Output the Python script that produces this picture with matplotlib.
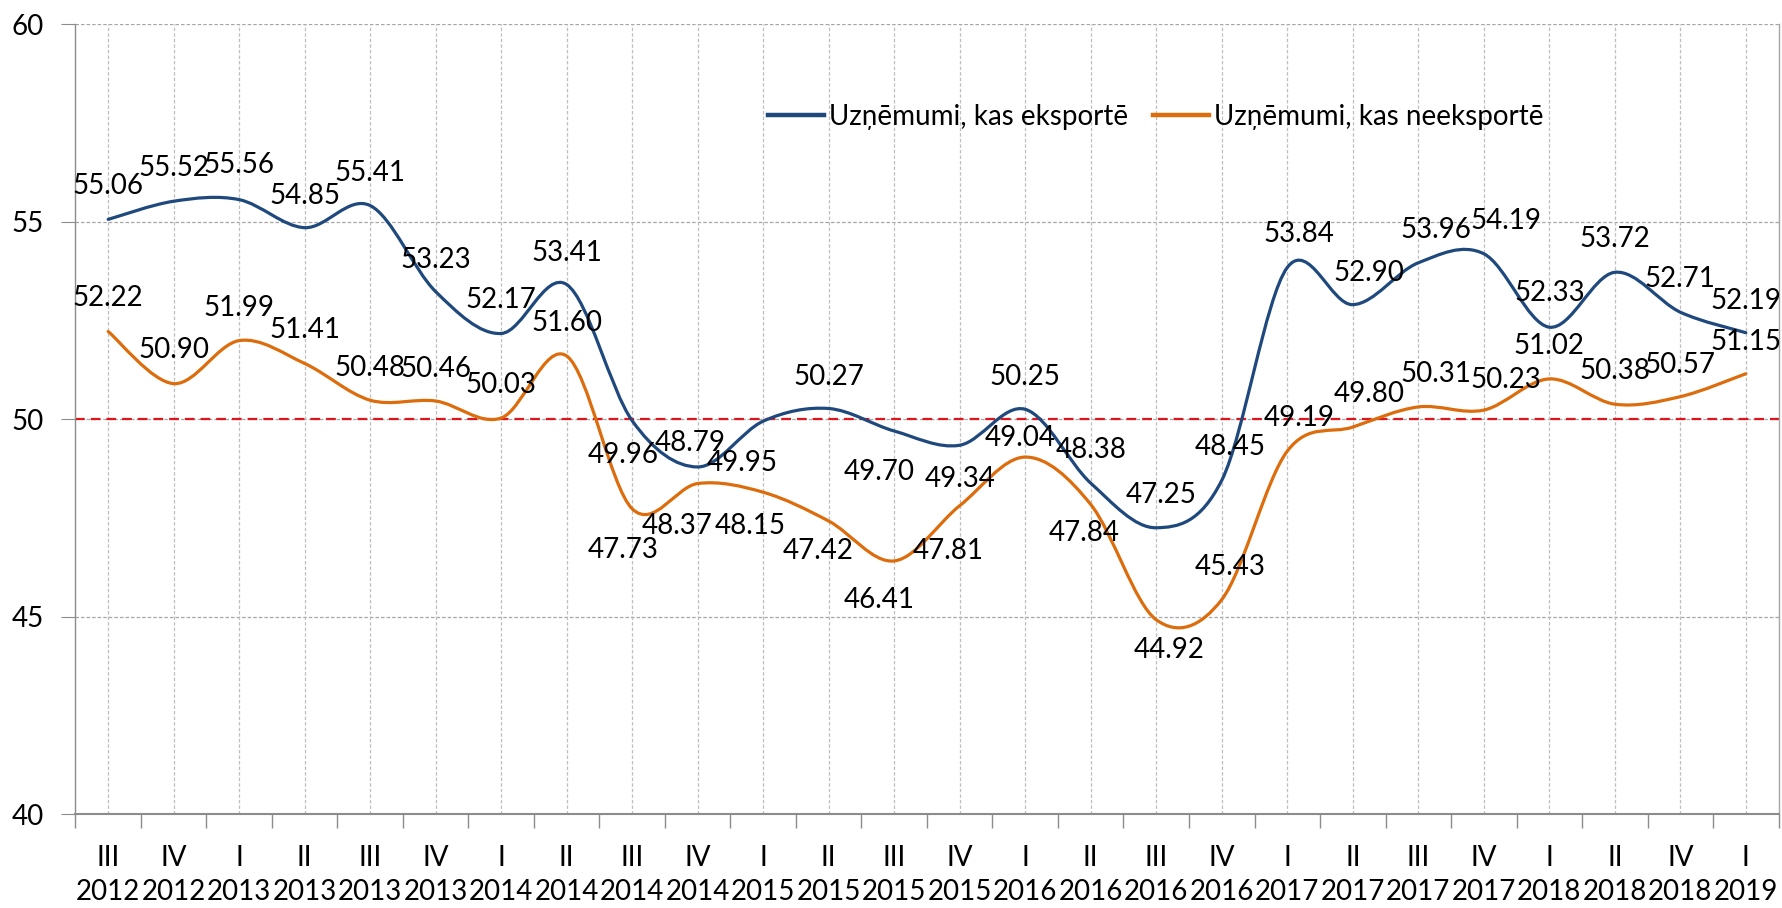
import matplotlib
matplotlib.use("Agg")
import matplotlib.pyplot as plt
from matplotlib.path import Path
from matplotlib.patches import PathPatch
from matplotlib.lines import Line2D

# ---------------- data ----------------
quarters = ["III", "IV", "I", "II", "III", "IV", "I", "II", "III", "IV", "I", "II", "III",
            "IV", "I", "II", "III", "IV", "I", "II", "III", "IV", "I", "II", "IV", "I"]
years = ["2012", "2012", "2013", "2013", "2013", "2013", "2014", "2014", "2014", "2014",
         "2015", "2015", "2015", "2015", "2016", "2016", "2016", "2016", "2017", "2017",
         "2017", "2017", "2018", "2018", "2018", "2019"]
export_vals = [55.06, 55.52, 55.56, 54.85, 55.41, 53.23, 52.17, 53.41, 49.96, 48.79,
               49.95, 50.27, 49.70, 49.34, 50.25, 48.38, 47.25, 48.45, 53.84, 52.90,
               53.96, 54.19, 52.33, 53.72, 52.71, 52.19]
nonexport_vals = [52.22, 50.90, 51.99, 51.41, 50.48, 50.46, 50.03, 51.60, 47.73, 48.37,
                  48.15, 47.42, 46.41, 47.81, 49.04, 47.84, 44.92, 45.43, 49.19, 49.80,
                  50.31, 50.23, 51.02, 50.38, 50.57, 51.15]
series_names = ["Uzņēmumi, kas eksportē", "Uzņēmumi, kas neeksportē"]
threshold = 50
y_ticks = [40, 45, 50, 55, 60]

# label offsets (pixels: dx right, dy down) relative to each point
export_label_offsets = [(0, -35), (0, -35), (0, -37), (0, -34), (0, -35), (0, -34), (0, -35),
                        (0, -34), (-9, 32), (-8, -26), (-21, 40), (0, -34), (-15, 39),
                        (0, 32), (0, -34), (0, -35), (5, -35), (8, -35), (12, -36),
                        (16, -34), (18, -35), (22, -35), (0, -36), (0, -35), (0, -35), (0, -34)]
nonexport_label_offsets = [(0, -36), (0, -36), (0, -35), (0, -36), (0, -34), (0, -34), (0, -35),
                           (0, -35), (-9, 39), (-21, 40), (-13, 32), (-11, 28), (-15, 37),
                           (-12, 43), (-5, -21), (-7, 27), (13, 28), (8, -35), (12, -35),
                           (16, -35), (18, -35), (22, -32), (0, -35), (0, -35), (0, -34), (0, -34)]

# ---------------- style ----------------
plt.rcParams['font.family'] = ['Lato', 'DejaVu Sans']
plt.rcParams['lines.scale_dashes'] = False
FS = 20
BLUE = '#1F497D'
ORANGE = '#DC6C0C'
RED = '#E0141C'
GRID = '#BFBFBF'
AXIS = '#8C8C8C'

fig = plt.figure(figsize=(17.83, 9.08), dpi=100)
ax = fig.add_axes([0.0423, 0.1035, 0.9552, 0.8697])


def smooth_path(xs, ys):
    n = len(xs)
    verts = [(xs[0], ys[0])]
    codes = [Path.MOVETO]
    for i in range(n - 1):
        p0 = i - 1 if i > 0 else i
        p3 = i + 2 if i + 2 < n else i + 1
        c1 = (xs[i] + (xs[i + 1] - xs[p0]) / 6.0, ys[i] + (ys[i + 1] - ys[p0]) / 6.0)
        c2 = (xs[i + 1] - (xs[p3] - xs[i]) / 6.0, ys[i + 1] - (ys[p3] - ys[i]) / 6.0)
        verts += [c1, c2, (xs[i + 1], ys[i + 1])]
        codes += [Path.CURVE4] * 3
    return Path(verts, codes)


xs = list(range(len(quarters)))

ax.set_xlim(-0.5, len(quarters) - 0.5)
ax.set_ylim(y_ticks[0], y_ticks[-1])

# grid
for y in y_ticks[1:]:
    ax.axhline(y, color='#A6A6A6', lw=0.9, dashes=(2.5, 1.5), zorder=1)
for x in xs:
    ax.axvline(x, color=GRID, lw=0.9, dashes=(2.5, 1.5), zorder=1)

ax.axhline(threshold, color=RED, lw=1.6, dashes=(7, 4.3), zorder=2)

for vals, color in [(export_vals, BLUE), (nonexport_vals, ORANGE)]:
    patch = PathPatch(smooth_path(xs, vals), facecolor='none', edgecolor=color,
                      lw=2.3, capstyle='round', joinstyle='round', zorder=3)
    ax.add_patch(patch)

for vals, offs in [(export_vals, export_label_offsets), (nonexport_vals, nonexport_label_offsets)]:
    for x, v, (dx, dy) in zip(xs, vals, offs):
        ax.annotate(f"{v:.2f}", (x, v), xytext=(dx, -dy - 2), textcoords='offset pixels',
                    ha='center', va='center', fontsize=FS, color='black', zorder=4)

# axes
ax.spines['top'].set_visible(False)
ax.spines['left'].set_color(AXIS)
ax.spines['left'].set_linewidth(1.0)
ax.spines['right'].set_color('#A6A6A6')
ax.spines['right'].set_linewidth(1.0)
ax.spines['bottom'].set_color(AXIS)
ax.spines['bottom'].set_linewidth(1.5)

ax.set_yticks(y_ticks)
ax.set_yticklabels([str(t) for t in y_ticks], fontsize=FS)
ax.tick_params(axis='y', length=10, color=AXIS, pad=13)

ax.set_xticks(xs)
ax.set_xticklabels([f"{q}\n{y}" for q, y in zip(quarters, years)], fontsize=FS)
for lab in ax.get_xticklabels():
    lab.set_linespacing(1.42)
ax.tick_params(axis='x', which='major', length=0, pad=22)
ax.set_xticks([x - 0.5 for x in xs] + [xs[-1] + 0.5], minor=True)
ax.tick_params(axis='x', which='minor', length=10, color=AXIS, width=1.0)

# legend
handles = [Line2D([], [], color=BLUE, lw=3.2), Line2D([], [], color=ORANGE, lw=3.2)]
fig.legend(handles, series_names, loc='center left',
           bbox_to_anchor=(768 / 1783, 1 - 117 / 908), ncol=2, frameon=False,
           fontsize=FS, handlelength=2.0, handletextpad=0.2, columnspacing=0.9,
           borderpad=0, borderaxespad=0)

fig.savefig('out.png', dpi=100)
